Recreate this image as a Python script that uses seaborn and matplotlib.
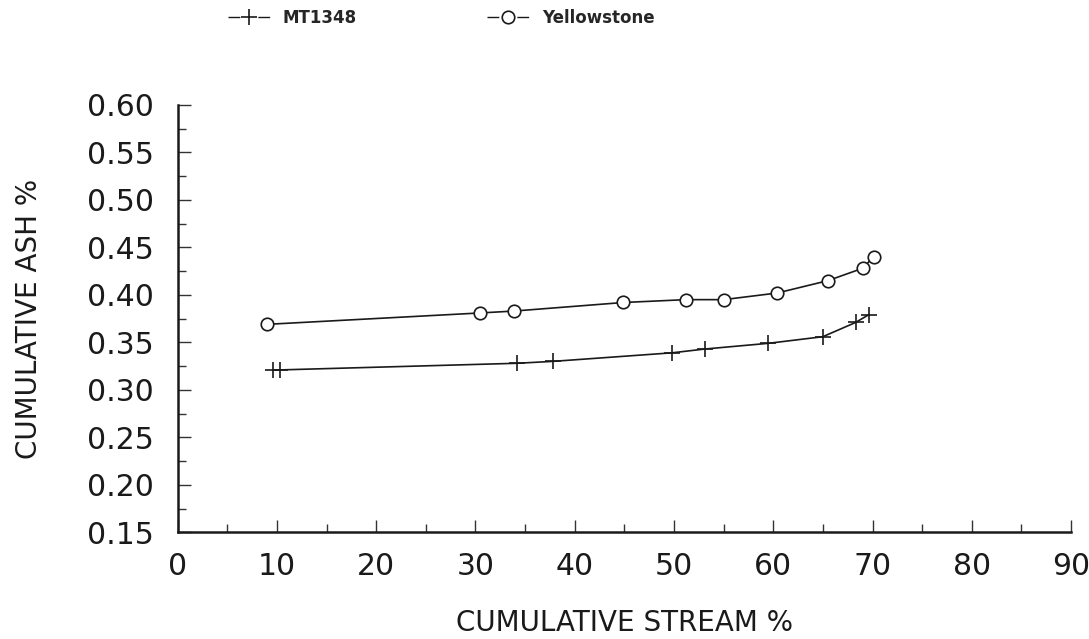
import matplotlib
matplotlib.use("Agg")
import matplotlib.pyplot as plt
from matplotlib.lines import Line2D
from matplotlib.ticker import MultipleLocator, FormatStrFormatter
import seaborn as sns
import pandas as pd

# Cumulative stream % vs cumulative ash % for two coals
mt_stream = [9.6, 10.3, 34.2, 37.8, 49.8, 53.1, 59.5, 65.0, 68.3, 69.6]
mt_ash = [0.321, 0.321, 0.328, 0.330, 0.339, 0.343, 0.349, 0.356, 0.371, 0.379]

ys_stream = [9.0, 30.5, 33.9, 44.9, 51.2, 55.0, 60.4, 65.5, 69.0, 70.1]
ys_ash = [0.369, 0.381, 0.383, 0.392, 0.395, 0.395, 0.402, 0.415, 0.428, 0.440]

series_names = ["MT1348", "Yellowstone"]
x_label = "CUMULATIVE STREAM %"
y_label = "CUMULATIVE ASH %"

mt_df = pd.DataFrame({"stream": mt_stream, "ash": mt_ash})
ys_df = pd.DataFrame({"stream": ys_stream, "ash": ys_ash})

sns.set_theme(style="ticks")
plt.rcParams["font.family"] = ["DejaVu Sans"]

ink = "#1a1a1a"
fig = plt.figure(figsize=(10.89, 6.39), dpi=100)
ax = fig.add_axes([0.1632, 0.167, 0.8203, 0.6687])

plus_style = dict(marker="+", markersize=11, markeredgewidth=1.2, markeredgecolor=ink)
circle_style = dict(marker="o", markersize=9, markeredgewidth=1.2, markeredgecolor=ink,
                    markerfacecolor="white")

sns.lineplot(data=mt_df, x="stream", y="ash", ax=ax, color=ink, lw=1.2,
             estimator=None, legend=False, **plus_style)
sns.lineplot(data=ys_df, x="stream", y="ash", ax=ax, color=ink, lw=1.2,
             estimator=None, legend=False, **circle_style)

ax.set_xlim(0, 90)
ax.set_ylim(0.15, 0.60)
ax.xaxis.set_major_locator(MultipleLocator(10))
ax.xaxis.set_minor_locator(MultipleLocator(5))
ax.yaxis.set_major_locator(MultipleLocator(0.05))
ax.yaxis.set_minor_locator(MultipleLocator(0.025))
ax.yaxis.set_major_formatter(FormatStrFormatter("%.2f"))

ax.tick_params(axis="both", which="major", direction="in", length=9, width=1.0,
               color="#333333", labelsize=21.5, labelcolor=ink)
ax.tick_params(axis="both", which="minor", direction="in", length=6, width=1.0,
               color="#333333")
ax.tick_params(axis="x", which="major", pad=14)
ax.tick_params(axis="y", which="major", pad=17)

for side in ("top", "right"):
    ax.spines[side].set_visible(False)
for side in ("left", "bottom"):
    ax.spines[side].set_linewidth(1.8)
    ax.spines[side].set_color(ink)

ax.set_xlabel(x_label, fontsize=20, color=ink, labelpad=20)
ax.set_ylabel(y_label, fontsize=20, color=ink, labelpad=32)

# Legend keys: short dash, marker, short dash
key_dashes = (8.5, 13)
handles = [
    Line2D([], [], color=ink, lw=1.0, dashes=key_dashes, **plus_style),
    Line2D([], [], color=ink, lw=1.0, dashes=key_dashes, **circle_style),
]
for h, name, x0 in zip(handles, series_names, (228, 487)):
    fig.legend([h], [name], loc="upper left", bbox_to_anchor=(x0 / 1089, 1 - 9 / 639),
               frameon=False, handlelength=2.5, handletextpad=0.8, numpoints=1,
               borderpad=0, borderaxespad=0,
               prop={"weight": "bold", "size": 12})

fig.savefig("out.png", dpi=100)
